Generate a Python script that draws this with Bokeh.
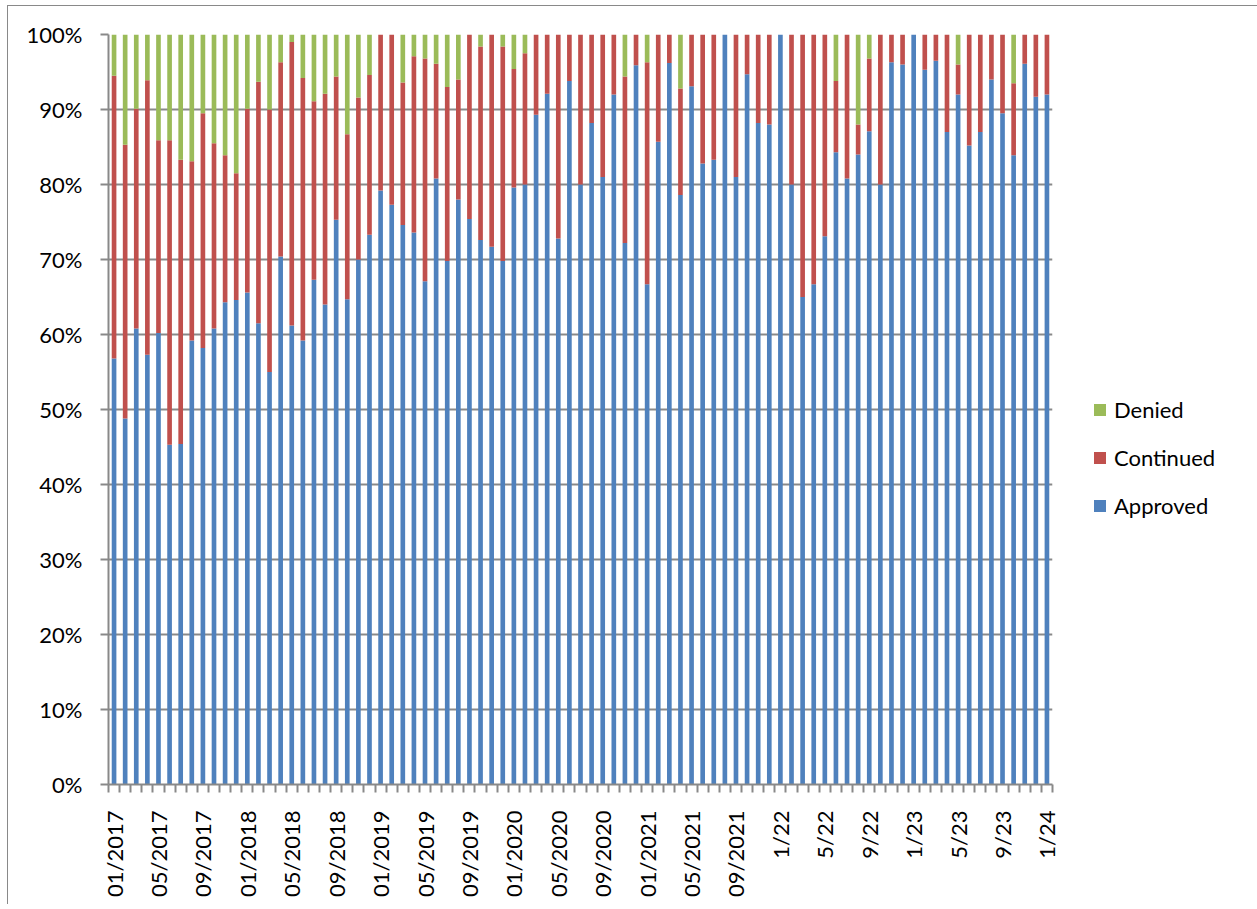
from bokeh.plotting import figure
from bokeh.models import FixedTicker, Legend, LegendItem, ColumnDataSource, Range1d
from bokeh.embed import file_html
from bokeh.resources import INLINE

approved = [56.8, 48.8, 60.8, 57.3, 60.2, 45.3, 45.4, 59.2, 58.2, 60.8, 64.3, 64.6, 65.6, 61.5, 55.0,
            70.4, 61.2, 59.2, 67.3, 64.0, 75.3, 64.7, 70.0, 73.3, 79.2, 77.3, 74.6, 73.6, 67.1, 80.8,
            69.8, 78.0, 75.4, 72.6, 71.7, 69.8, 79.6, 80.0, 89.3, 92.1, 72.8, 93.8, 80.0, 88.2, 81.0,
            92.0, 72.2, 95.9, 66.7, 85.7, 96.2, 78.6, 93.1, 82.8, 83.3, 100.0, 81.0, 94.7, 88.2, 88.0,
            100.0, 80.0, 65.0, 66.7, 73.1, 84.3, 80.8, 84.0, 87.1, 80.0, 96.3, 96.0, 100.0, 95.3, 96.5,
            87.0, 92.0, 85.2, 87.0, 94.0, 89.5, 83.9, 96.1, 91.7, 92.0]
continued = [37.7, 36.5, 29.3, 36.6, 25.7, 40.6, 37.9, 23.9, 31.3, 24.7, 19.6, 16.9, 24.5, 32.2, 35.0,
             25.9, 37.8, 35.0, 23.8, 28.1, 19.1, 22.0, 21.6, 21.3, 20.8, 22.7, 19.0, 23.5, 29.7, 15.3,
             23.2, 16.0, 24.6, 25.8, 28.3, 28.6, 15.8, 17.5, 10.7, 7.9, 27.2, 6.2, 20.0, 11.8, 19.0,
             8.0, 22.2, 4.1, 29.6, 14.3, 3.8, 14.2, 6.9, 17.2, 16.7, 0.0, 19.0, 5.3, 11.8, 12.0,
             0.0, 20.0, 35.0, 33.3, 26.9, 9.5, 19.2, 4.0, 9.7, 20.0, 3.7, 4.0, 0.0, 4.7, 3.5,
             13.0, 4.0, 14.8, 13.0, 6.0, 10.5, 9.6, 3.9, 8.3, 8.0]
denied = [5.5, 14.7, 9.9, 6.1, 14.1, 14.1, 16.7, 16.9, 10.5, 14.5, 16.1, 18.5, 9.9, 6.3, 10.0,
          3.7, 1.0, 5.8, 8.9, 7.9, 5.6, 13.3, 8.4, 5.4, 0.0, 0.0, 6.4, 2.9, 3.2, 3.9,
          7.0, 6.0, 0.0, 1.6, 0.0, 1.6, 4.6, 2.5, 0.0, 0.0, 0.0, 0.0, 0.0, 0.0, 0.0,
          0.0, 5.6, 0.0, 3.7, 0.0, 0.0, 7.2, 0.0, 0.0, 0.0, 0.0, 0.0, 0.0, 0.0, 0.0,
          0.0, 0.0, 0.0, 0.0, 0.0, 6.2, 0.0, 12.0, 3.2, 0.0, 0.0, 0.0, 0.0, 0.0, 0.0,
          0.0, 4.0, 0.0, 0.0, 0.0, 0.0, 6.5, 0.0, 0.0, 0.0]

tick_labels = ["01/2017", "05/2017", "09/2017", "01/2018", "05/2018", "09/2018", "01/2019",
               "05/2019", "09/2019", "01/2020", "05/2020", "09/2020", "01/2021", "05/2021",
               "09/2021", "1/22", "5/22", "9/22", "1/23", "5/23", "9/23", "1/24"]
series_names = ["Approved", "Continued", "Denied"]
colors = ["#4F81BD", "#C0504D", "#9BBB59"]

n = len(approved)
x = list(range(n))
src = ColumnDataSource(dict(x=x, Approved=approved, Continued=continued, Denied=denied))

FONT = "Lato"
GRAY = "#898989"

p = figure(frame_width=944, frame_height=750, output_backend="svg", toolbar_location=None,
           x_range=Range1d(-0.5, n - 0.5), y_range=Range1d(0, 100),
           min_border_left=100, min_border_top=28, min_border_right=30, min_border_bottom=120)
p.styles = {"border-top": "1px solid #898989", "border-left": "1px solid #898989",
            "border-right": "1px solid #898989", "margin": "5px 0px 0px 7px"}
p.outline_line_color = None
p.background_fill_color = "white"

renderers = p.vbar_stack(series_names, x="x", width=0.42, source=src, color=colors, line_color=None)

# y axis
p.yaxis.ticker = FixedTicker(ticks=list(range(0, 101, 10)))
p.yaxis.major_label_overrides = {v: f"{v}%" for v in range(0, 101, 10)}
p.yaxis.major_label_text_font = FONT
p.yaxis.major_label_text_font_size = "22px"
p.yaxis.major_label_text_color = "black"
p.yaxis.axis_line_color = GRAY
p.yaxis.axis_line_width = 2
p.yaxis.major_tick_line_color = GRAY
p.yaxis.major_tick_line_width = 2
p.yaxis.major_tick_out = 8
p.yaxis.major_tick_in = 0
p.yaxis.minor_tick_line_color = None
p.yaxis.major_label_standoff = 18

# x axis
label_ticks = list(range(0, n, 4))
p.xaxis.ticker = FixedTicker(ticks=label_ticks, minor_ticks=[i - 0.5 for i in range(n + 1)])
p.xaxis.major_label_overrides = {t: lab for t, lab in zip(label_ticks, tick_labels)}
p.xaxis.major_label_orientation = 3.14159265 / 2
p.xaxis.major_label_text_font = FONT
p.xaxis.major_label_text_font_size = "22px"
p.xaxis.major_label_text_color = "black"
p.xaxis.axis_line_color = GRAY
p.xaxis.axis_line_width = 2
p.xaxis.major_tick_out = 0
p.xaxis.major_tick_in = 0
p.xaxis.minor_tick_line_color = GRAY
p.xaxis.minor_tick_line_width = 2
p.xaxis.minor_tick_out = 8
p.xaxis.minor_tick_in = 0
p.xaxis.major_label_standoff = 18

p.xgrid.grid_line_color = None
p.ygrid.grid_line_color = GRAY
p.ygrid.grid_line_width = 2
p.ygrid.ticker = FixedTicker(ticks=list(range(0, 101, 10)))

items = [LegendItem(label=series_names[i], renderers=[renderers[i]]) for i in (2, 1, 0)]
legend = Legend(items=items, location=(40, 265), orientation="vertical",
                label_text_font=FONT, label_text_font_size="22px", label_text_color="black",
                glyph_width=15, glyph_height=15, label_standoff=7, label_height=20,
                spacing=21, padding=0, margin=0, border_line_color=None,
                background_fill_alpha=0)
p.add_layout(legend, "right")

open("out.html", "w").write(file_html(p, INLINE))
